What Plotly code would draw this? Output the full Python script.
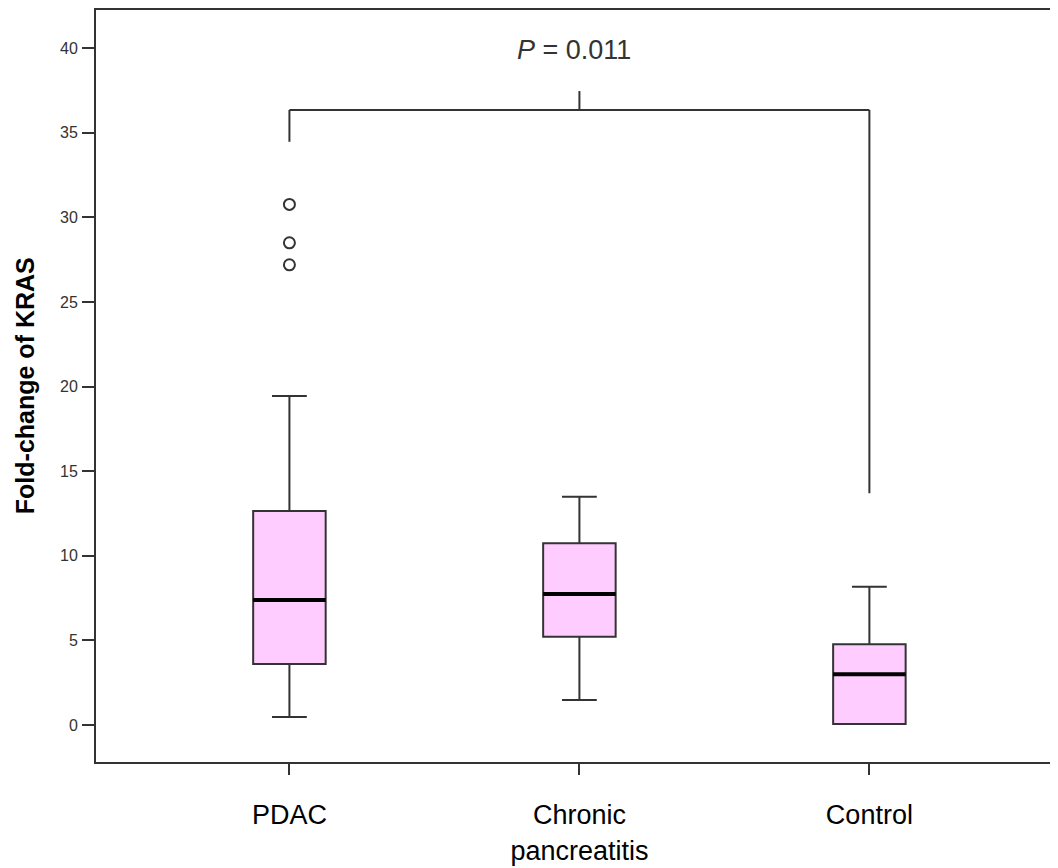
import plotly.graph_objects as go

# ---- data ----
groups = ["PDAC", "Chronic<br>pancreatitis", "Control"]
q1 = [3.60, 5.22, 0.06]
medians = [7.39, 7.74, 3.00]
q3 = [12.65, 10.74, 4.77]
lower_whisker = [0.47, 1.48, 0.06]
upper_whisker = [19.44, 13.49, 8.17]
outlier_group = [0, 0, 0]
outlier_values = [30.77, 28.50, 27.20]

y_ticks = [0, 5, 10, 15, 20, 25, 30, 35, 40]

# significance bracket
bracket_groups = [0, 2]
bracket_y = 36.35
bracket_leg_bottoms = [34.47, 13.70]
bracket_tick_top = 37.47
p_label_y = 39.9
p_label = "<i>P</i> = 0.011"

# ---- styling ----
BOX_W = 0.25
FILL = "#FFCCFF"
LINE = "#333333"
FONT = "Liberation Sans, Arial, sans-serif"

xpos = list(range(len(groups)))

fig = go.Figure()
fig.add_trace(go.Box(
    x=xpos, q1=q1, median=medians, q3=q3,
    lowerfence=lower_whisker, upperfence=upper_whisker,
    width=BOX_W, whiskerwidth=0.48,
    fillcolor=FILL, line=dict(color=LINE, width=2),
    boxpoints=False, showlegend=False, hoverinfo="skip",
))

# thicker median lines
mx, my = [], []
for x, m in zip(xpos, medians):
    mx += [x - BOX_W / 2, x + BOX_W / 2, None]
    my += [m, m, None]
fig.add_trace(go.Scatter(x=mx, y=my, mode="lines",
                         line=dict(color="black", width=4),
                         showlegend=False, hoverinfo="skip"))

# outliers
fig.add_trace(go.Scatter(x=outlier_group, y=outlier_values, mode="markers",
                         marker=dict(symbol="circle-open", size=11, color=LINE,
                                     line=dict(color=LINE, width=2)),
                         showlegend=False, hoverinfo="skip"))

# bracket
xa, xb = bracket_groups
fig.add_shape(type="line", x0=xa, x1=xb, y0=bracket_y, y1=bracket_y,
              line=dict(color=LINE, width=2))
fig.add_shape(type="line", x0=xa, x1=xa, y0=bracket_leg_bottoms[0], y1=bracket_y,
              line=dict(color=LINE, width=2))
fig.add_shape(type="line", x0=xb, x1=xb, y0=bracket_leg_bottoms[1], y1=bracket_y,
              line=dict(color=LINE, width=2))
xm = (xa + xb) / 2
fig.add_shape(type="line", x0=xm, x1=xm, y0=bracket_y, y1=bracket_tick_top,
              line=dict(color=LINE, width=2))
fig.add_annotation(x=xm - 0.02, y=p_label_y, text=p_label, showarrow=False,
                   font=dict(family=FONT, size=27, color="#333333"),
                   xanchor="center", yanchor="middle")

# y-axis title as annotation
fig.add_annotation(xref="paper", yref="paper", x=-0.073, y=0.5,
                   text="<b>Fold-change of KRAS</b>", textangle=-90,
                   showarrow=False, xanchor="center", yanchor="middle",
                   font=dict(family=FONT, size=25, color="black"))

fig.update_layout(
    width=1058, height=868,
    margin=dict(l=88, r=0, t=2, b=114),
    plot_bgcolor="white", paper_bgcolor="white",
    font=dict(family=FONT, color="black"),
    showlegend=False,
)
fig.update_xaxes(
    range=[-0.667, 2.678], tickvals=xpos, ticktext=groups,
    showline=True, mirror=True, linecolor=LINE, linewidth=2,
    ticks="outside", ticklen=11, tickwidth=2, tickcolor=LINE,
    showgrid=False, zeroline=False,
    tickfont=dict(family=FONT, size=27, color="black"),
    ticklabelstandoff=17,
)
fig.update_yaxes(
    range=[-2.19, 42.26], tickvals=y_ticks,
    showline=True, mirror=False, linecolor=LINE, linewidth=2,
    ticks="outside", ticklen=12, tickwidth=2, tickcolor=LINE,
    showgrid=False, zeroline=False,
    tickfont=dict(family=FONT, size=16, color="#333333"),
    ticklabelstandoff=1,
)

fig.write_html("out.html")
